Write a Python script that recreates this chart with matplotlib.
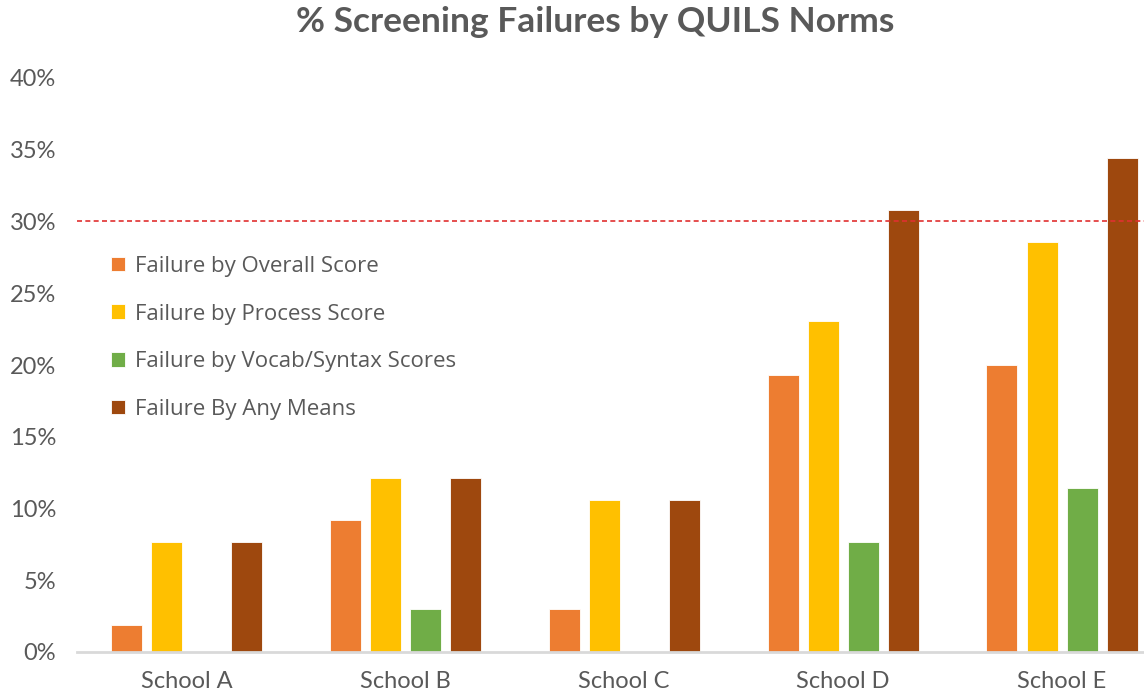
import matplotlib
matplotlib.use("Agg")
import matplotlib.pyplot as plt
import numpy as np

schools = ["School A", "School B", "School C", "School D", "School E"]
series_names = ["Failure by Overall Score", "Failure by Process Score",
                "Failure by Vocab/Syntax Scores", "Failure By Any Means"]
overall = [1.9, 9.2, 3.0, 19.3, 20.0]
process = [7.7, 12.1, 10.6, 23.1, 28.6]
vocab = [0.0, 3.0, 0.0, 7.7, 11.4]
any_means = [7.7, 12.1, 10.6, 30.8, 34.4]
threshold = 30.0
yticks = [0, 5, 10, 15, 20, 25, 30, 35, 40]

colors = ["#ED7D31", "#FFC000", "#70AD47", "#9E480E"]

fig = plt.figure(figsize=(11.44, 7.0), dpi=100)
ax = fig.add_axes([77/1144, 48/700, 1 - 77/1144, (652-78)/700])

x = np.arange(len(schools))
w = 0.1416
step = 0.183
data = [overall, process, vocab, any_means]
for i, (vals, c, name) in enumerate(zip(data, colors, series_names)):
    ax.bar(x + (i - 1.5) * step, vals, width=w, color=c, label=name,
           edgecolor="#FFFFFF", linewidth=0.6)

ax.axhline(threshold, color="#E03030", linestyle=(0, (3, 2)), linewidth=1.2)

ax.set_xlim(-0.5, 4 + 82/219)
ax.set_ylim(0, 40)
ax.set_yticks(yticks)
ax.set_yticklabels([f"{t}%" for t in yticks])
ax.set_xticks(x)
ax.set_xticklabels(schools)
for s in ["top", "right", "left"]:
    ax.spines[s].set_visible(False)
ax.spines["bottom"].set_color("#D9D9D9")
ax.spines["bottom"].set_linewidth(2)
ax.tick_params(axis="both", length=0, labelsize=17, labelcolor="#595959",
               labelfontfamily="Lato")
ax.tick_params(axis="y", pad=15)
ax.tick_params(axis="x", pad=14)

fig.text(0.52, 0.968, "% Screening Failures by QUILS Norms", ha="center", va="center",
         fontsize=25.5, fontweight="bold", color="#595959", family="Lato")

leg = ax.legend(loc="upper left", bbox_to_anchor=(0.013, 0.725), frameon=False,
                handlelength=0.65, handleheight=0.65, handletextpad=0.45,
                labelspacing=1.2, prop={"family": "Open Sans", "size": 16})
for t in leg.get_texts():
    t.set_color("#595959")

fig.savefig("out.png", dpi=100)
